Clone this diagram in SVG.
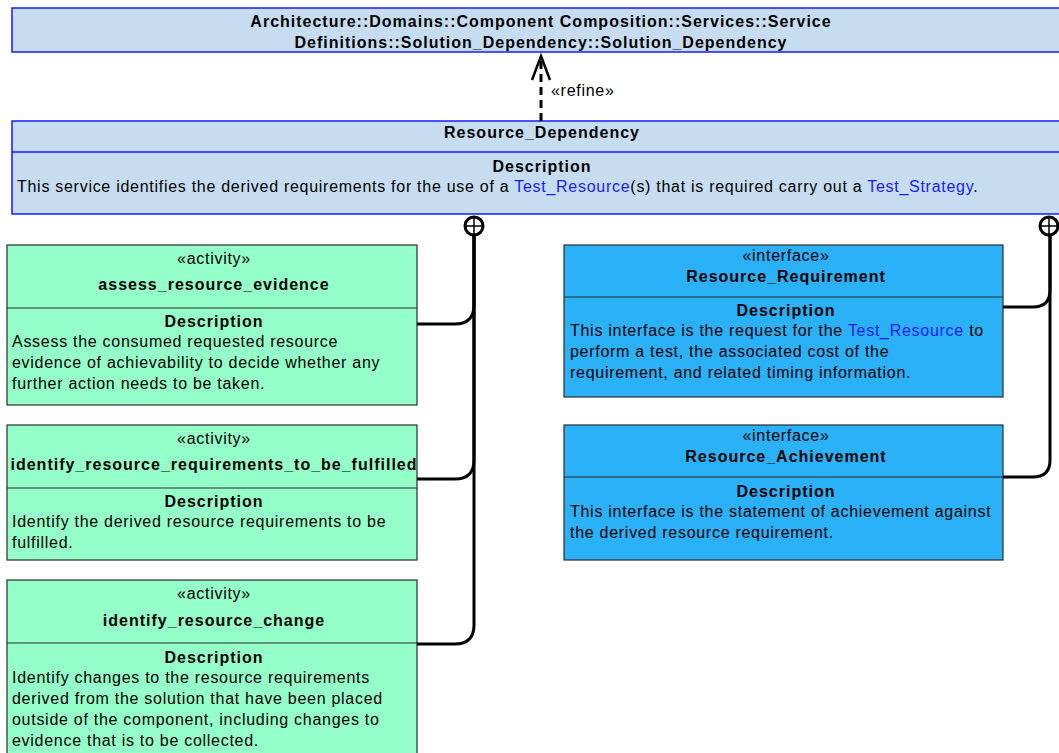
<svg xmlns="http://www.w3.org/2000/svg" width="1059" height="753" viewBox="0 0 1059 753">
  <style>
    text { font-family: "Liberation Sans", Arial, sans-serif; font-size: 16px; letter-spacing: 0.72px; fill: #000; }
    .b { font-weight: bold; letter-spacing: 1px; }
    .c { text-anchor: middle; }
    .lnk { fill: #1a1aff; }
    .pkg { fill: #c6ddf1; stroke: #1a1aff; stroke-width: 1.5; }
    .act { fill: #94ffc9; stroke: #2b2b2b; stroke-width: 1.2; }
    .itf { fill: #2ab1f8; stroke: #2b2b2b; stroke-width: 1.2; }
    .sepB { stroke: #1a1aff; stroke-width: 1.5; }
    .sep { stroke: #2b2b2b; stroke-width: 1.2; }
    .wire { fill: none; stroke: #000; stroke-width: 3; }
    .nest { fill: #fff; stroke: #000; stroke-width: 3; }
    .cross { stroke: #000; stroke-width: 1.5; }
  </style>

  <rect width="1059" height="753" fill="#fff"/>

  <!-- parent service definition -->
  <g id="solution-dependency">
    <rect class="pkg" x="12" y="8" width="1060" height="44"/>
    <text class="b c" x="541" y="27">Architecture::Domains::Component Composition::Services::Service</text>
    <text class="b c" x="541" y="48">Definitions::Solution_Dependency::Solution_Dependency</text>
  </g>

  <!-- service -->
  <g id="resource-dependency">
    <rect class="pkg" x="12" y="121" width="1060" height="93"/>
    <line class="sepB" x1="12" y1="152" x2="1072" y2="152"/>
    <text class="b c" x="542" y="138">Resource_Dependency</text>
    <text class="b c" x="542" y="172">Description</text>
    <text x="17" y="192">This service identifies the derived requirements for the use of a <tspan class="lnk">Test_Resource</tspan>(s) that is required carry out a <tspan class="lnk">Test_Strategy</tspan>.</text>
  </g>

  <!-- activities -->
  <g id="assess-resource-evidence">
    <rect class="act" x="7" y="245" width="410" height="160"/>
    <line class="sep" x1="7" y1="308" x2="417" y2="308"/>
    <text class="c" x="214" y="264">«activity»</text>
    <text class="b c" x="214" y="290">assess_resource_evidence</text>
    <text class="b c" x="214" y="327">Description</text>
    <text x="12" y="347">Assess the consumed requested resource</text>
    <text x="12" y="368">evidence of achievability to decide whether any</text>
    <text x="12" y="389">further action needs to be taken.</text>
  </g>

  <g id="identify-resource-requirements">
    <rect class="act" x="7" y="425" width="410" height="135"/>
    <line class="sep" x1="7" y1="488" x2="417" y2="488"/>
    <text class="c" x="214" y="444">«activity»</text>
    <text class="b c" x="214" y="470">identify_resource_requirements_to_be_fulfilled</text>
    <text class="b c" x="214" y="507">Description</text>
    <text x="12" y="527">Identify the derived resource requirements to be</text>
    <text x="12" y="548">fulfilled.</text>
  </g>

  <g id="identify-resource-change">
    <rect class="act" x="7" y="580" width="410" height="190"/>
    <line class="sep" x1="7" y1="643" x2="417" y2="643"/>
    <text class="c" x="214" y="599">«activity»</text>
    <text class="b c" x="214" y="626">identify_resource_change</text>
    <text class="b c" x="214" y="663">Description</text>
    <text x="12" y="683">Identify changes to the resource requirements</text>
    <text x="12" y="704">derived from the solution that have been placed</text>
    <text x="12" y="725">outside of the component, including changes to</text>
    <text x="12" y="746">evidence that is to be collected.</text>
  </g>

  <!-- interfaces -->
  <g id="resource-requirement">
    <rect class="itf" x="564" y="245" width="439" height="152"/>
    <line class="sep" x1="564" y1="297" x2="1003" y2="297"/>
    <text class="c" x="786" y="261">«interface»</text>
    <text class="b c" x="786" y="282">Resource_Requirement</text>
    <text class="b c" x="786" y="316">Description</text>
    <text x="570" y="336">This interface is the request for the <tspan class="lnk">Test_Resource</tspan> to</text>
    <text x="570" y="357">perform a test, the associated cost of the</text>
    <text x="570" y="378">requirement, and related timing information.</text>
  </g>

  <g id="resource-achievement">
    <rect class="itf" x="564" y="425" width="439" height="135"/>
    <line class="sep" x1="564" y1="477" x2="1003" y2="477"/>
    <text class="c" x="786" y="441">«interface»</text>
    <text class="b c" x="786" y="462">Resource_Achievement</text>
    <text class="b c" x="786" y="497">Description</text>
    <text x="570" y="517">This interface is the statement of achievement against</text>
    <text x="570" y="538">the derived resource requirement.</text>
  </g>

  <!-- connectors -->
  <g id="connectors">
    <!-- refine dependency -->
    <line x1="541" y1="121" x2="541" y2="57" stroke="#000" stroke-width="3" stroke-dasharray="8,5"/>
    <polyline points="532,80 541,56 550,80" fill="none" stroke="#000" stroke-width="2.5"/>
    <text x="551" y="96">«refine»</text>

    <!-- containment from the service to its activities -->
    <path class="wire" d="M474,234 V305 Q474,324 455,324 H417"/>
    <path class="wire" d="M474,234 V460 Q474,479 455,479 H417"/>
    <path class="wire" d="M474,234 V625 Q474,644 455,644 H417"/>
    <circle class="nest" cx="474" cy="226" r="9"/>
    <line class="cross" x1="465" y1="226" x2="483" y2="226"/>
    <line class="cross" x1="474" y1="217" x2="474" y2="235"/>

    <!-- containment from the service to its interfaces -->
    <path class="wire" d="M1050,234 V290 Q1050,307 1033,307 H1003"/>
    <path class="wire" d="M1050,234 V460 Q1050,477 1033,477 H1003"/>
    <circle class="nest" cx="1049" cy="226" r="9"/>
    <line class="cross" x1="1040" y1="226" x2="1058" y2="226"/>
    <line class="cross" x1="1049" y1="217" x2="1049" y2="235"/>
  </g>
</svg>
